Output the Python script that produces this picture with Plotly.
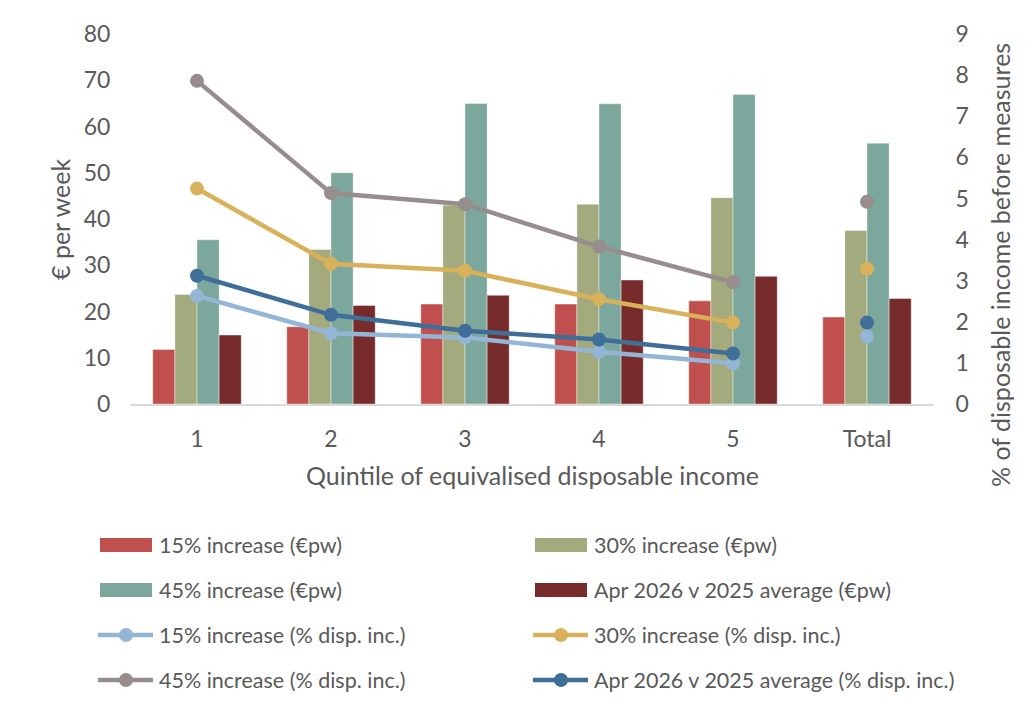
import plotly.graph_objects as go

# Categories
quintiles = ["1", "2", "3", "4", "5", "Total"]

# Weekly cash impact (€ per week)
inc15_eur = [11.8, 16.7, 21.6, 21.6, 22.3, 18.8]
inc30_eur = [23.7, 33.4, 43.0, 43.2, 44.6, 37.5]
inc45_eur = [35.5, 50.0, 65.0, 64.9, 66.9, 56.4]
apr26_eur = [14.9, 21.3, 23.5, 26.8, 27.6, 22.8]

# Impact as % of disposable income before measures
inc15_pct = [2.63, 1.72, 1.62, 1.27, 0.99, 1.64]
inc30_pct = [5.24, 3.41, 3.24, 2.55, 1.98, 3.29]
inc45_pct = [7.86, 5.13, 4.86, 3.83, 2.96, 4.92]
apr26_pct = [3.12, 2.17, 1.78, 1.57, 1.23, 1.98]

bar_names = ["15% increase (€pw)", "30% increase (€pw)",
             "45% increase (€pw)", "Apr 2026 v 2025 average (€pw)"]
line_names = ["15% increase (% disp. inc.)", "30% increase (% disp. inc.)",
              "45% increase (% disp. inc.)", "Apr 2026 v 2025 average (% disp. inc.)"]

bar_colors = ["#C0504D", "#A3AA7E", "#7BA79C", "#772B2A"]
line_colors = ["#93B6D6", "#D9B15B", "#978D8C", "#3F6F99"]

FONT = "Lato"
TXT = "#595959"
TICK_SIZE = 23
TITLE_SIZE = 25
LEGEND_SIZE = 21.5

fig = go.Figure()

for name, vals, col in zip(bar_names, [inc15_eur, inc30_eur, inc45_eur, apr26_eur], bar_colors):
    fig.add_trace(go.Bar(x=quintiles, y=vals, name=name, marker_color=col,
                         marker_line=dict(color="rgba(255,255,255,0.5)", width=0.8),
                         showlegend=False))

for name, vals, col in zip(line_names, [inc15_pct, inc30_pct, inc45_pct, apr26_pct], line_colors):
    # quintiles joined by a line, total shown as a standalone marker
    fig.add_trace(go.Scatter(x=quintiles[:5], y=vals[:5], name=name, yaxis="y2",
                             mode="lines+markers", line=dict(color=col, width=4.5),
                             marker=dict(size=14, color=col), showlegend=False))
    fig.add_trace(go.Scatter(x=quintiles[5:], y=vals[5:], name=name, yaxis="y2",
                             mode="markers", marker=dict(size=14, color=col),
                             showlegend=False))

fig.update_layout(
    width=1034, height=713,
    margin=dict(l=130, r=100, t=34, b=309),
    paper_bgcolor="white", plot_bgcolor="white",
    font=dict(family=FONT, size=TICK_SIZE, color=TXT),
    barmode="group", bargap=0.34, bargroupgap=0,
    xaxis=dict(type="category", showgrid=False, showline=True, linecolor="#D9D9D9",
               linewidth=1.5, ticks="outside", ticklen=14, tickcolor="rgba(0,0,0,0)",
               tickfont=dict(size=TICK_SIZE, color=TXT)),
    yaxis=dict(range=[0, 80], dtick=10, showgrid=False, zeroline=False, showline=False,
               ticks="outside", ticklen=14, tickcolor="rgba(0,0,0,0)",
               tickfont=dict(size=TICK_SIZE, color=TXT)),
    yaxis2=dict(range=[0, 9], dtick=1, overlaying="y", side="right", showgrid=False,
                zeroline=False, showline=False, ticks="outside", ticklen=16,
                tickcolor="rgba(0,0,0,0)", tickfont=dict(size=TICK_SIZE, color=TXT)),
)

annotations = [
    dict(text="€ per week", x=60, y=220, textangle=-90, size=TITLE_SIZE),
    dict(text="% of disposable income before measures", x=1000, y=265, textangle=-90,
         size=TITLE_SIZE),
    dict(text="Quintile of equivalised disposable income", x=532, y=475, size=TITLE_SIZE),
]
shapes = []

# Legend laid out in two columns below the plot
rows_y = [545, 590, 635, 680]
cols_x = [100, 535]
entries = [(bar_names[0], bar_colors[0], "bar"), (bar_names[1], bar_colors[1], "bar"),
           (bar_names[2], bar_colors[2], "bar"), (bar_names[3], bar_colors[3], "bar"),
           (line_names[0], line_colors[0], "line"), (line_names[1], line_colors[1], "line"),
           (line_names[2], line_colors[2], "line"), (line_names[3], line_colors[3], "line")]
for i, (label, col, kind) in enumerate(entries):
    x0 = cols_x[i % 2]
    yc = rows_y[i // 2]
    if kind == "bar":
        shapes.append(dict(type="rect", xref="paper", yref="paper",
                           x0=(x0 - 130) / 804, x1=(x0 + 52 - 130) / 804,
                           y0=(404 - (yc + 7)) / 370, y1=(404 - (yc - 7)) / 370,
                           fillcolor=col, line=dict(width=0)))
    else:
        shapes.append(dict(type="line", xref="paper", yref="paper",
                           x0=(x0 - 2 - 130) / 804, x1=(x0 + 53 - 130) / 804,
                           y0=(404 - yc) / 370, y1=(404 - yc) / 370,
                           line=dict(color=col, width=4.5)))
        shapes.append(dict(type="circle", xref="paper", yref="paper",
                           x0=(x0 + 19 - 130) / 804, x1=(x0 + 33 - 130) / 804,
                           y0=(404 - (yc + 7)) / 370, y1=(404 - (yc - 7)) / 370,
                           fillcolor=col, line=dict(width=0)))
    annotations.append(dict(text=label, x=x0 + 57, y=yc, xanchor="left", size=LEGEND_SIZE))

ann_out = []
for a in annotations:
    a = dict(a)
    size = a.pop("size")
    d = dict(xref="paper", yref="paper", showarrow=False,
             font=dict(family=FONT, size=size, color=TXT))
    d.update(a)
    d["x"] = (a["x"] - 130) / 804
    d["y"] = (404 - a["y"]) / 370
    d.setdefault("xanchor", "center")
    d["yanchor"] = "middle"
    ann_out.append(d)

fig.update_layout(annotations=ann_out, shapes=shapes)
fig.write_html("out.html")
